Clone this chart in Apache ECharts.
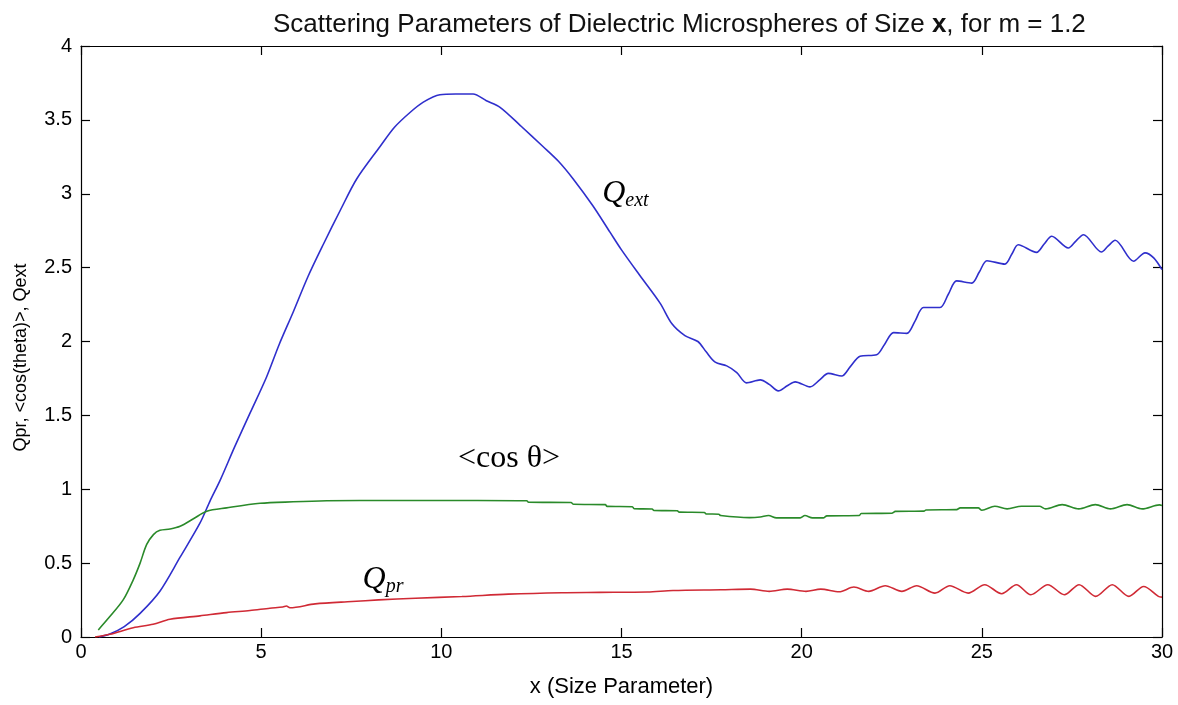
<!DOCTYPE html>
<html><head><meta charset="utf-8">
<script src="https://cdn.jsdelivr.net/npm/echarts@6/dist/echarts.min.js"></script>
<style>html,body{margin:0;padding:0;background:#fff}#c{width:1178px;height:705px}</style>
</head><body><div id="c"></div>
<script>
// ---- data ----
const xTicks = [0, 5, 10, 15, 20, 25, 30];
const yTicks = [0, 0.5, 1, 1.5, 2, 2.5, 3, 3.5, 4];

const qextX = [0.5,0.8,1.2,1.64,2.19,2.75,3.3,3.58,3.86,4.27,4.7,5.15,5.5,5.89,6.3,6.73,7.2,7.65,8.3,8.7,
  9.13,9.5,9.96,10.4,10.88,11.25,11.63,12.2,12.82,13.25,13.66,14.2,14.68,15.0,15.5,16.07,16.4,16.76,17.12,17.35,
  17.6,17.92,18.2,18.47,18.85,19.1,19.35,19.6,19.82,20.23,20.5,20.74,21.11,21.35,21.62,22.08,22.3,22.55,22.92,23.15,
  23.38,23.84,24.07,24.3,24.72,24.93,25.14,25.64,25.83,26.01,26.52,26.73,26.94,27.4,27.61,27.82,28.32,28.5,28.7,29.21,
  29.53,29.77,30.0];
const qextY = [0.0,0.02,0.07,0.16,0.31,0.54,0.77,0.92,1.06,1.29,1.52,1.76,1.98,2.20,2.44,2.66,2.89,3.10,3.32,3.45,
  3.55,3.62,3.67,3.675,3.675,3.63,3.585,3.46,3.32,3.22,3.10,2.92,2.74,2.62,2.45,2.26,2.12,2.04,2.00,1.93,
  1.86,1.835,1.79,1.72,1.74,1.71,1.666,1.70,1.727,1.693,1.74,1.784,1.766,1.83,1.90,1.91,1.98,2.06,2.055,2.14,
  2.23,2.23,2.32,2.41,2.395,2.47,2.547,2.524,2.59,2.655,2.603,2.66,2.712,2.633,2.68,2.723,2.606,2.645,2.685,2.543,
  2.60,2.566,2.486];

const cosX = [0.48,0.8,1.17,1.45,1.64,1.82,2.01,2.19,2.47,2.75,3.12,3.49,4.04,4.97,5.89,6.82,7.74,9.5,11.0,12.37,
  12.42,13.6,13.67,14.55,14.6,15.3,15.35,15.85,15.9,16.55,16.6,17.3,17.35,17.7,17.75,18.55,18.85,19.08,19.3,19.96,
  20.09,20.3,20.6,20.7,21.6,21.65,22.5,22.6,23.4,23.45,24.3,24.4,24.9,25.0,25.36,25.7,26.1,26.6,26.77,27.23,
  27.69,28.15,28.57,29.03,29.45,29.93,30];
const cosY = [0.048,0.138,0.251,0.387,0.50,0.625,0.693,0.722,0.731,0.749,0.80,0.851,0.874,0.905,0.915,0.922,0.924,0.924,0.924,0.922,
  0.912,0.910,0.898,0.896,0.884,0.882,0.868,0.866,0.856,0.854,0.845,0.843,0.833,0.831,0.822,0.808,0.812,0.822,0.806,0.806,
  0.822,0.806,0.806,0.82,0.822,0.836,0.838,0.85,0.852,0.86,0.862,0.874,0.874,0.858,0.885,0.867,0.885,0.885,0.867,0.896,
  0.867,0.896,0.867,0.896,0.867,0.894,0.89];

const qprX = [0.39,0.8,1.45,2.0,2.47,3.3,4.04,4.69,5.24,5.6,5.7,5.8,6.5,7.52,8.26,9.28,10.57,11.86,13.34,14.39,
  15.72,16.43,17.76,18.58,19.1,19.6,20.12,20.53,21.04,21.45,21.86,22.32,22.78,23.19,23.7,24.11,24.62,25.08,25.55,25.96,
  26.36,26.83,27.29,27.7,28.16,28.62,29.08,29.49,29.9,30];
const qprY = [0.0,0.018,0.063,0.086,0.12,0.143,0.165,0.179,0.195,0.203,0.21,0.198,0.224,0.24,0.251,0.262,0.274,0.29,0.30,0.302,
  0.305,0.315,0.32,0.324,0.309,0.324,0.309,0.324,0.306,0.338,0.309,0.347,0.309,0.347,0.297,0.347,0.297,0.354,0.293,0.354,
  0.286,0.354,0.286,0.354,0.275,0.354,0.275,0.342,0.275,0.27];

// annotation anchor points (data coordinates)
const qextLabelAt = [14.45, 3.0];
const cosLabelAt = [10.45, 1.21];
const qprLabelAt = [7.8, 0.39];

// ---- chart ----
const zip = (xs, ys) => xs.slice(0, Math.min(xs.length, ys.length)).map((x, i) => [x, ys[i]]);
const SANS = "'Liberation Sans', Arial, sans-serif";
const SERIF = "'Liberation Serif', 'Times New Roman', serif";

const subRich = {
  q: { fontFamily: SERIF, fontStyle: 'italic', fontSize: 32, color: '#000', lineHeight: 34 },
  s: { fontFamily: SERIF, fontStyle: 'italic', fontSize: 20, color: '#000', lineHeight: 20, verticalAlign: 'bottom' },
  n: { fontFamily: SERIF, fontSize: 32, color: '#000', lineHeight: 34 }
};
function labelMark(coord, fmt) {
  return {
    silent: true, symbol: 'circle', symbolSize: 1, itemStyle: { color: 'rgba(0,0,0,0)' },
    label: { show: true, position: 'right', distance: 0, formatter: fmt, rich: subRich },
    data: [{ coord: coord }]
  };
}

const boxAxisX = (pos) => ({
  type: 'value', min: xTicks[0], max: xTicks[xTicks.length - 1], interval: xTicks[1] - xTicks[0], position: pos,
  axisLine: { show: true, onZero: false, lineStyle: { color: '#000', width: 1.2 } },
  axisTick: { show: true, inside: true, length: 9, lineStyle: { color: '#000', width: 1.2 } },
  splitLine: { show: false },
  axisLabel: { show: pos === 'bottom', color: '#000', fontFamily: SANS, fontSize: 20, margin: 5 }
});
const boxAxisY = (pos) => ({
  type: 'value', min: yTicks[0], max: yTicks[yTicks.length - 1], interval: yTicks[1] - yTicks[0], position: pos,
  axisLine: { show: true, onZero: false, lineStyle: { color: '#000', width: 1.2 } },
  axisTick: { show: true, inside: true, length: 9, lineStyle: { color: '#000', width: 1.2 } },
  splitLine: { show: false },
  axisLabel: { show: pos === 'left', color: '#000', fontFamily: SANS, fontSize: 20, margin: 9,
    formatter: (v) => String(v) }
});

const xb = boxAxisX('bottom');
xb.name = 'x (Size Parameter)'; xb.nameLocation = 'middle'; xb.nameGap = 39;
xb.nameTextStyle = { color: '#000', fontFamily: SANS, fontSize: 22 };
const yl = boxAxisY('left');
yl.name = 'Qpr, <cos(theta)>, Qext'; yl.nameLocation = 'middle'; yl.nameGap = 51;
yl.nameTextStyle = { color: '#000', fontFamily: SANS, fontSize: 18, padding: [0, 32, 0, 0] };

const chart = echarts.init(document.getElementById('c'), null, { renderer: 'canvas' });
chart.setOption({
  animation: false,
  backgroundColor: '#fff',
  title: {
    text: '{a|Scattering Parameters of Dielectric Microspheres of Size }{b|x}{a|, for m = 1.2}',
    left: 268, top: 7,
    textStyle: { fontWeight: 'normal', rich: {
      a: { fontFamily: SANS, fontSize: 26, color: '#111', fontWeight: 'normal' },
      b: { fontFamily: SANS, fontSize: 26, color: '#111', fontWeight: 'bold' }
    } }
  },
  grid: { left: 81, right: 16, top: 46, bottom: 68 },
  xAxis: [xb, boxAxisX('top')],
  yAxis: [yl, boxAxisY('right')],
  series: [
    { name: 'Qext', type: 'line', data: zip(qextX, qextY), showSymbol: false, smooth: 0.3,
      lineStyle: { color: '#2f2fcc', width: 1.6 }, itemStyle: { color: '#2f2fcc' },
      markPoint: labelMark(qextLabelAt, '{q|Q}{s|ext}') },
    { name: 'cos', type: 'line', data: zip(cosX, cosY), showSymbol: false, smooth: 0.3,
      lineStyle: { color: '#2a8a2a', width: 1.6 }, itemStyle: { color: '#2a8a2a' },
      markPoint: labelMark(cosLabelAt, '{n|<cos θ>}') },
    { name: 'Qpr', type: 'line', data: zip(qprX, qprY), showSymbol: false, smooth: 0.3,
      lineStyle: { color: '#d02a35', width: 1.6 }, itemStyle: { color: '#d02a35' },
      markPoint: labelMark(qprLabelAt, '{q|Q}{s|pr}') }
  ]
});
</script></body></html>
